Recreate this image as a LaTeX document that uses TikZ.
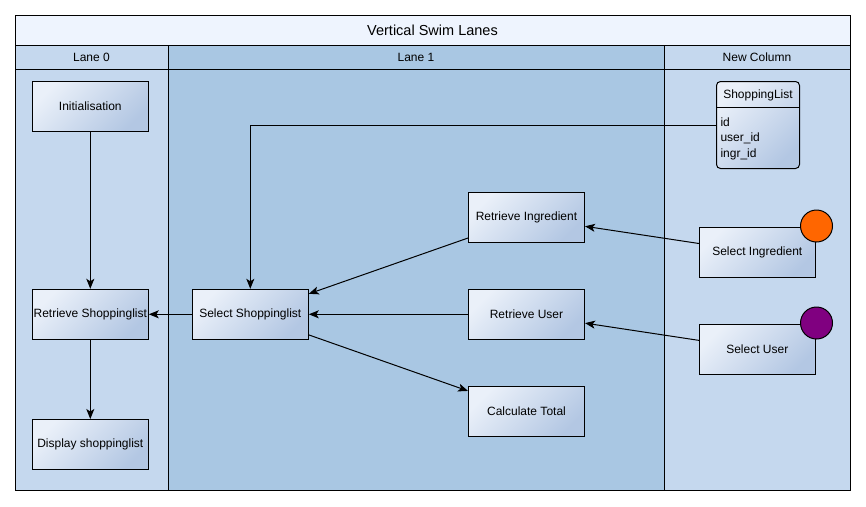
\documentclass[tikz,border=0pt]{standalone}
\usepackage{fontspec}
\setmainfont{Liberation Sans}
\usetikzlibrary{arrows.meta}
\definecolor{titlefill}{HTML}{EEF4FE}
\definecolor{lanelight}{HTML}{C5D8EE}
\definecolor{lanedark}{HTML}{A9C7E3}
\definecolor{boxlight}{HTML}{EAF0F9}
\definecolor{boxdark}{HTML}{B3C7E3}
\definecolor{ingrorange}{HTML}{FF6600}
\definecolor{userpurple}{HTML}{800080}

\begin{document}
\begin{tikzpicture}[x=1pt, y=-1pt, line width=1pt,
    box/.style={draw, rectangle, minimum width=116, minimum height=50, inner sep=0pt,
      top color=boxlight, bottom color=boxdark, shading angle=45,
      font=\fontsize{12}{14}\selectfont},
    flow/.style={-{Stealth[length=10pt, width=8pt, inset=2.5pt]}},
    lanelabel/.style={font=\fontsize{12}{14}\selectfont},
    marker/.style={draw, circle, minimum size=32, inner sep=0pt}]
    \useasboundingbox (0,0) rectangle (866,506);

    % Lanes
    \fill[lanelight] (15,45) rectangle (168,490);
    \fill[lanedark] (168,45) rectangle (664,490);
    \fill[lanelight] (664,45) rectangle (850,490);
    \fill[titlefill] (15,15) rectangle (850,45);
    \draw (15,15) rectangle (850,490);
    \draw (15,45) -- (850,45);
    \draw (15,69) -- (850,69);
    \draw (168,45) -- (168,490);
    \draw (664,45) -- (664,490);

    % Titles
    \node[font=\fontsize{14.5}{17}\selectfont] (title) at (432.5,30) {Vertical Swim Lanes};
    \node[lanelabel] (lanezero) at (91.5,57) {Lane 0};
    \node[lanelabel] (laneone) at (416,57) {Lane 1};
    \node[lanelabel] (newcol) at (757,57) {New Column};

    % Lane 0
    \node[box] (init) at (90.3,106.5) {Initialisation};
    \node[box] (retrlist) at (90.3,314.3) {Retrieve Shoppinglist};
    \node[box] (displist) at (90.3,444.5) {Display shoppinglist};
    \draw[flow] (init) -- (retrlist);
    \draw[flow] (retrlist) -- (displist);

    % Lane 1
    \node[box] (sellist) at (250.3,314.3) {Select Shoppinglist};
    \node[box] (retringr) at (526.5,217.5) {Retrieve Ingredient};
    \node[box] (retruser) at (526.5,314.3) {Retrieve User};
    \node[box] (calctotal) at (526.5,411.5) {Calculate Total};
    \draw[flow] (sellist) -- (retrlist);
    \draw[flow] (retringr) -- (sellist);
    \draw[flow] (retruser) -- (sellist);
    \draw[flow] (sellist) -- (calctotal);

    % New column
    \node[box, minimum width=83, minimum height=87, rounded corners=4pt] (shoplist) at (758,125) {};
    \draw (shoplist.north west) ++(0,26) -- ++(83,0);
    \node[lanelabel] (shoptitle) at (758,95.5) {ShoppingList};
    \node[anchor=north west, align=left, inner sep=0pt, font=\fontsize{12}{15.5}\selectfont] (shopattr) at (720,117)
      {id\\ user\_id\\ ingr\_id};
    \node[box] (selingr) at (757.3,252.3) {Select Ingredient};
    \node[box] (seluser) at (757.3,349.2) {Select User};
    \node[marker, fill=ingrorange] (ingrmark) at (816.5,226) {};
    \node[marker, fill=userpurple] (usermark) at (816.5,323) {};
    \draw[flow] (selingr) -- (retringr);
    \draw[flow] (seluser) -- (retruser);
    \draw[flow] (shoplist.west) -| (sellist.north);
\end{tikzpicture}
\end{document}
